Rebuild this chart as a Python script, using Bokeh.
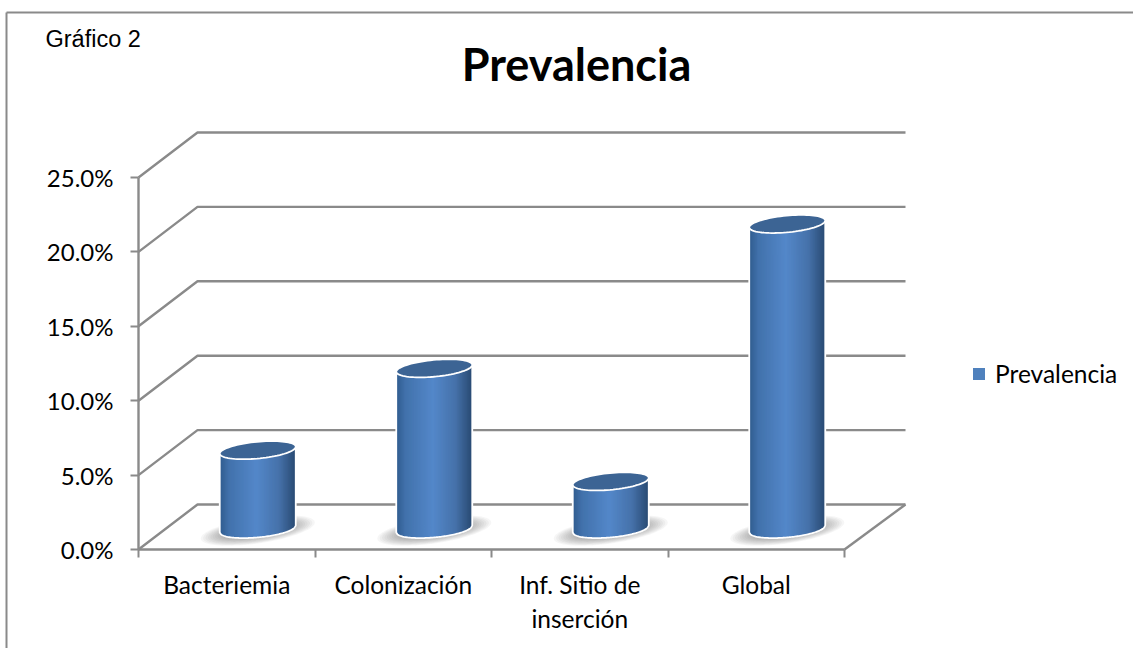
import numpy as np
from bokeh.embed import file_html
from bokeh.models import (FixedTicker, Label, Legend, LegendItem, LinearAxis,
                          NumeralTickFormatter, Range1d)
from bokeh.plotting import figure
from bokeh.resources import INLINE

# Chart data
categories = ["Bacteriemia", "Colonización", "Inf. Sitio de\ninserción", "Global"]
prevalence = [0.053, 0.108, 0.032, 0.205]
y_ticks = [0.0, 0.05, 0.10, 0.15, 0.20, 0.25]

WIDTH, HEIGHT = 1133, 648
# Page position of the front axes and the size of one category / one unit
ORIGIN_X, ORIGIN_Y = 138, 549
CAT_PX, UNIT_PX = 176.5, 1488.0
GREY = "#8a8a8a"
LABEL_FONT = "Lato"


def dx(px):
    return px / CAT_PX


def dy(px):
    return px / UNIT_PX


def X(px):
    return (px - ORIGIN_X) / CAT_PX


def Y(py):
    return (ORIGIN_Y - py) / UNIT_PX


p = figure(width=WIDTH, height=HEIGHT, output_backend="svg", toolbar_location=None,
           min_border=0, outline_line_color=None, background_fill_color="white",
           x_range=Range1d(X(0), X(WIDTH)), y_range=Range1d(Y(HEIGHT), Y(0)),
           x_axis_type=None, y_axis_type=None)
p.grid.visible = False

# Chart area frame
p.line([X(6), X(6)], [Y(HEIGHT), Y(12)], line_color=GREY, line_width=2)
p.line([X(6), X(WIDTH)], [Y(12), Y(12)], line_color=GREY, line_width=2)

# Walls and floor of the 3D box
depth_x, depth_y = dx(59), dy(45)
n_cats = len(categories)
wall_end = n_cats + dx(61)
for tick in y_ticks:
    p.line([0, depth_x, wall_end], [tick, tick + depth_y, tick + depth_y],
           line_color=GREY, line_width=2.4)
p.line([n_cats, wall_end], [0, depth_y], line_color=GREY, line_width=2.4)

# Axes on the front edge of the box
y_axis = LinearAxis(fixed_location=0, bounds=(0, 0.25), ticker=FixedTicker(ticks=y_ticks),
                    formatter=NumeralTickFormatter(format="0.0%"),
                    axis_line_color=GREY, axis_line_width=2.4,
                    major_tick_line_color=GREY, major_tick_line_width=2,
                    major_tick_in=0, major_tick_out=8, minor_tick_line_color=None,
                    major_label_text_font=LABEL_FONT, major_label_text_font_size="24px",
                    major_label_text_color="black", major_label_standoff=17)
p.add_layout(y_axis, "left")

# Category names sit between the tick marks, which are drawn as minor ticks
centers = [i + 0.5 for i in range(n_cats)]
x_axis = LinearAxis(fixed_location=0, bounds=(0, n_cats),
                    ticker=FixedTicker(ticks=centers, minor_ticks=list(range(n_cats + 1))),
                    major_label_overrides=dict(zip(centers, categories)),
                    axis_line_color=GREY, axis_line_width=2.4,
                    major_tick_line_color=None,
                    minor_tick_line_color=GREY, minor_tick_line_width=2,
                    minor_tick_in=0, minor_tick_out=8,
                    major_label_text_font=LABEL_FONT, major_label_text_font_size="24.5px",
                    major_label_text_color="black", major_label_standoff=12)
p.add_layout(x_axis, "below")

# Cylinder drawing
HALF_W = 38.0       # half width, page pixels
MINOR = 8.4         # half height of the elliptic cap
TILT = 0.09         # rise of the cap towards the right
BASE_PX = 20.5      # base centre above the front edge of the floor
STRIPS = 60


def shade(t):
    """Horizontal shading across a cylinder, t from 0 (left) to 1 (right)."""
    stops_t = [0.0, 0.12, 0.48, 0.78, 1.0]
    r = np.interp(t, stops_t, [0x30, 0x42, 0x54, 0x46, 0x29])
    g = np.interp(t, stops_t, [0x5c, 0x72, 0x88, 0x72, 0x4a])
    b = np.interp(t, stops_t, [0x8e, 0xac, 0xca, 0xaa, 0x72])
    return "#%02x%02x%02x" % (int(r), int(g), int(b))


def edge_curve(u, sign):
    """Offset in pixels of the cap outline at u in [-1, 1]."""
    return TILT * HALF_W * u + sign * MINOR * np.sqrt(np.clip(1 - u * u, 0, 1))


angles = np.linspace(0, 2 * np.pi, 80)
for i, value in enumerate(prevalence):
    cx_px = ORIGIN_X + CAT_PX * centers[i] + 31
    base = dy(BASE_PX)
    top = value + base

    # Soft floor shadow, built up from stacked translucent ellipses
    for k in range(12):
        a = 57 - k * 2.4
        b = 13.0 - k * 0.7
        p.patch(X(cx_px + a * np.cos(angles)),
                base - dy(1.5) + dy(b * np.sin(angles) + 0.14 * a * np.cos(angles)),
                fill_color="#505050", fill_alpha=0.05, line_color=None)

    # Side of the cylinder: each strip runs on to the right edge and the next one
    # is painted over it, so that no seams show between neighbouring strips
    edges = np.linspace(-1, 1, STRIPS + 1)
    xs, ys, colors = [], [], []
    for u0, u1 in zip(edges[:-1], edges[1:]):
        u = np.linspace(u0, 1, 24)
        xs.append(X(cx_px + HALF_W * np.concatenate([u, u[::-1]])))
        ys.append(np.concatenate([base + dy(edge_curve(u, -1)),
                                  (top + dy(edge_curve(u, -1)))[::-1]]))
        colors.append(shade((u0 + u1 + 2) / 4))
    p.patches(xs, ys, fill_color=colors, line_color=None)

    # White outline of the side and the top cap
    u = np.linspace(-1, 1, 60)
    outline_x = np.concatenate([[-1.0], u, [1.0]])
    outline_y = np.concatenate([[top + dy(edge_curve(-1, -1))],
                                base + dy(edge_curve(u, -1)),
                                [top + dy(edge_curve(1, -1))]])
    p.line(X(cx_px + HALF_W * outline_x), outline_y, line_color="white", line_width=1.8)
    p.patch(X(cx_px + HALF_W * np.cos(angles)),
            top + dy(TILT * HALF_W * np.cos(angles) + MINOR * np.sin(angles)),
            fill_color="#3c6494", line_color="white", line_width=1.8)

# Legend; its swatch renderer lies outside the visible range
swatch = p.quad(left=[X(-40)], right=[X(-30)], bottom=[Y(-30)], top=[Y(-40)],
                fill_color="#4f81bd", line_color=None)
legend = Legend(items=[LegendItem(label="Prevalencia", renderers=[swatch])],
                location=(971, HEIGHT - 388), orientation="vertical",
                background_fill_alpha=0, border_line_color=None,
                glyph_width=15, glyph_height=15, label_standoff=9,
                label_text_font=LABEL_FONT, label_text_font_size="24.5px",
                label_text_color="black", margin=0, padding=0)
p.add_layout(legend, "center")

# Title and the figure caption
p.add_layout(Label(x=X(576), y=Y(63), text="Prevalencia", text_align="center",
                   text_baseline="middle", text_font=LABEL_FONT, text_font_style="bold",
                   text_font_size="45px", text_color="black"))
p.add_layout(Label(x=X(45), y=Y(38), text="Gráfico 2", text_align="left",
                   text_baseline="middle", text_font="Liberation Sans",
                   text_font_size="23.5px", text_color="black"))

open("out.html", "w").write(file_html(p, INLINE))
